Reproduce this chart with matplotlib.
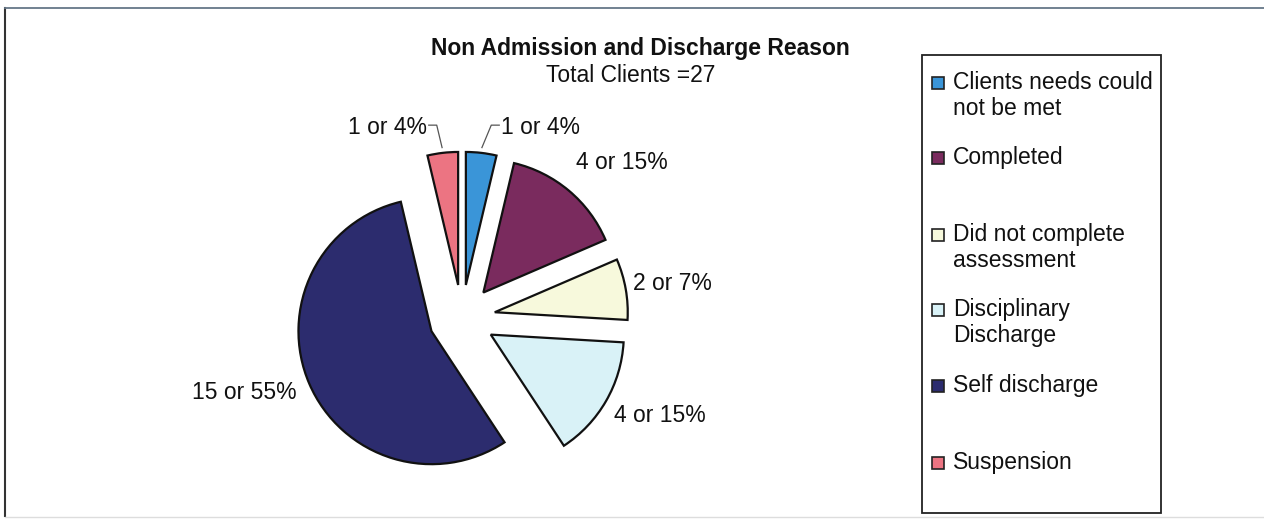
import numpy as np
import matplotlib.pyplot as plt
from matplotlib.lines import Line2D
from matplotlib.patches import Rectangle

plt.rcParams["font.family"] = ["Liberation Sans", "DejaVu Sans"]

reasons = ["Clients needs could\nnot be met", "Completed", "Did not complete\nassessment",
           "Disciplinary\nDischarge", "Self discharge", "Suspension"]
clients = [1, 4, 2, 4, 15, 1]
percents = [4, 15, 7, 15, 55, 4]
colors = ["#3a95d8", "#7a2b5e", "#f7f9dc", "#d9f2f7", "#2c2c6e", "#ec7482"]

# label text centres in pie units, one per wedge
label_pos = [(0.59, 1.43), (1.20, 1.17), (1.58, 0.26), (1.49, -0.73), (-1.64, -0.56), (-0.56, 1.43)]

W, H = 1264, 521
FS = 16.5
fig = plt.figure(figsize=(W / 100, H / 100), dpi=100)

# pie centre and radius in pixels
cx, cy, r = 462, 318, 133
half = 200
ax = fig.add_axes([(cx - half) / W, (H - cy - half) / H, 2 * half / W, 2 * half / H])

explode = 0.25
wedges, _ = ax.pie(clients, colors=colors, startangle=90, counterclock=False,
                   explode=[explode] * len(clients), radius=1,
                   wedgeprops=dict(edgecolor="#111111", linewidth=1.6))
lim = half / r
ax.set_xlim(-lim, lim)
ax.set_ylim(-lim, lim)
ax.set_aspect("equal")
ax.axis("off")

for i, w in enumerate(wedges):
    mid = np.deg2rad((w.theta1 + w.theta2) / 2)
    tx, ty = label_pos[i]
    ax.text(tx, ty, f"{clients[i]} or {percents[i]}%", ha="center", va="center",
            fontsize=FS, color="#111111", clip_on=False)
    # leader lines for the two thin slices at the top
    if clients[i] == 1:
        ox, oy = 1.29 * np.cos(mid), 1.29 * np.sin(mid)
        side = np.sign(tx)
        sx = tx - side * 0.31
        ly = ty + 0.02
        ax.plot([sx, sx - side * 0.06, ox], [ly, ly, oy],
                color="#555555", lw=0.9, clip_on=False)

fig.text(640 / W, 1 - 48 / H, "Non Admission and Discharge Reason", ha="center", va="center",
         fontsize=FS, fontweight="bold", color="#111111")
fig.text(631 / W, 1 - 76 / H, "Total Clients =27", ha="center", va="center",
         fontsize=FS, color="#111111")

# legend box
lx0, ly0, lx1, ly1 = 922, 55, 1161, 513
fig.patches.append(Rectangle((lx0 / W, 1 - ly1 / H), (lx1 - lx0) / W, (ly1 - ly0) / H,
                             transform=fig.transFigure, fill=False, edgecolor="#222222", lw=1.3))
entry_y = [83, 158, 235, 310, 386, 463]
for color, name, y in zip(colors, reasons, entry_y):
    fig.patches.append(Rectangle((932 / W, 1 - (y + 6) / H), 12 / W, 12 / H,
                                 transform=fig.transFigure, facecolor=color,
                                 edgecolor="#222222", lw=1.2))
    fig.text(953 / W, 1 - (y - 12) / H, name, ha="left", va="top", fontsize=FS,
             color="#111111", linespacing=1.15)

# outer frame
fig.add_artist(Line2D([5 / W, 5 / W], [1 - 8 / H, 1 - 516 / H], color="#333333", lw=1.5))
fig.add_artist(Line2D([5 / W, 1], [1 - 8 / H, 1 - 8 / H], color="#667788", lw=1.3))
fig.add_artist(Line2D([5 / W, 1], [1 - 517 / H, 1 - 517 / H], color="#dddddd", lw=1.0))

fig.savefig("out.png", dpi=100)
